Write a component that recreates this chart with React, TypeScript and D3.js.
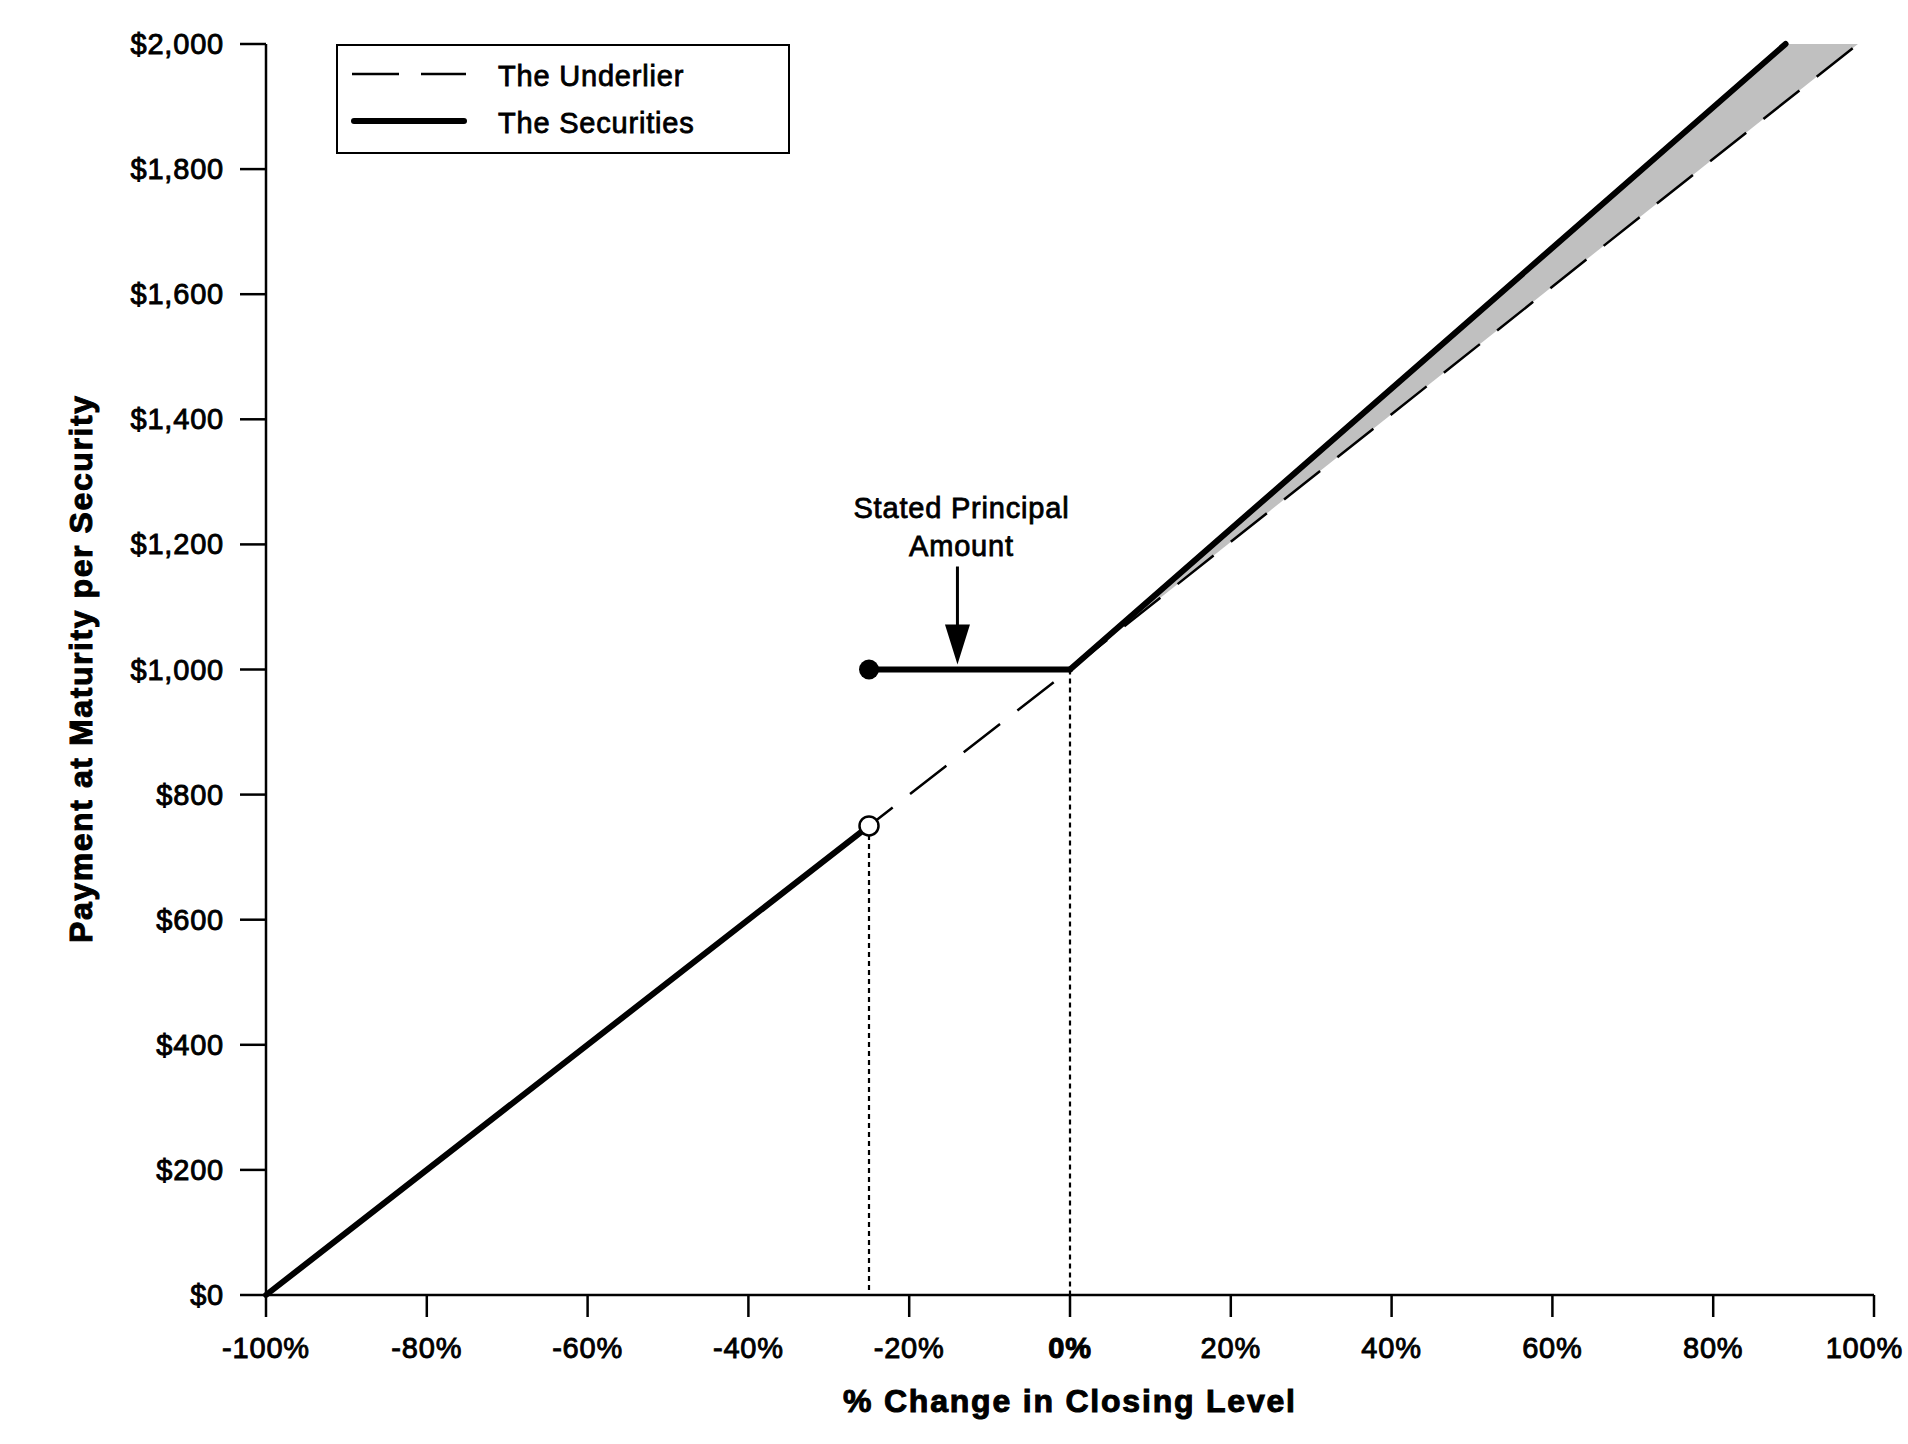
import { useEffect, useRef } from 'react';
import * as d3 from 'd3';

// ── Data ──────────────────────────────────────────────────────────────────────
const X_TICKS = [-100, -80, -60, -40, -20, 0, 20, 40, 60, 80, 100];
const Y_TICKS = [0, 200, 400, 600, 800, 1000, 1200, 1400, 1600, 1800, 2000];

// [% change, payment]
const UNDERLIER: [number, number][] = [[-100, 0], [0, 1000], [98, 2000]];
const SEC_DOWN: [number, number][] = [[-100, 0], [-25, 750]];
const SEC_FLAT: [number, number][] = [[-25, 1000], [0, 1000]];
const SEC_UP: [number, number][] = [[0, 1000], [89, 2000]];
const SHADE: [number, number][] = [[0, 1000], [89, 2000], [98, 2000]];

const BARRIER = -25;
const ARROW_X = -14;
const LEGEND = ['The Underlier', 'The Securities'];
const NOTE = ['Stated Principal', 'Amount'];

const W = 1908;
const H = 1444;
const FONT = '"Liberation Sans", Arial, sans-serif';

export default function App() {
  const svgRef = useRef<SVGSVGElement>(null);

  useEffect(() => {
    if (!svgRef.current) return;
    const svg = d3.select(svgRef.current);
    svg.selectAll('*').remove();

    const x = d3.scaleLinear().domain([-100, 100]).range([266, 1874]);
    const y = d3.scaleLinear().domain([0, 2000]).range([1295, 44]);
    const line = d3.line<[number, number]>().x(d => x(d[0])).y(d => y(d[1]));

    // shaded outperformance band
    svg.append('path')
      .attr('d', line(SHADE) + 'Z')
      .attr('fill', '#c0c0c0');

    // dotted drop lines
    const drops: [number, number][] = [[BARRIER, 750], [0, 1000]];
    svg.selectAll('line.drop').data(drops).enter().append('line')
      .attr('class', 'drop')
      .attr('x1', d => x(d[0])).attr('x2', d => x(d[0]))
      .attr('y1', d => y(d[1])).attr('y2', y(0))
      .attr('stroke', '#000').attr('stroke-width', 2.2)
      .attr('stroke-dasharray', '5,4');

    // underlier (dashed)
    svg.append('path')
      .attr('d', line(UNDERLIER))
      .attr('fill', 'none')
      .attr('stroke', '#000').attr('stroke-width', 2.5)
      .attr('stroke-dasharray', '46,22');

    // securities (thick)
    [SEC_DOWN, SEC_FLAT, SEC_UP].forEach(seg => {
      svg.append('path')
        .attr('d', line(seg))
        .attr('fill', 'none')
        .attr('stroke', '#000').attr('stroke-width', 6)
        .attr('stroke-linecap', 'round').attr('stroke-linejoin', 'round');
    });

    // ── Axes ──────────────────────────────────────────────────────────────────
    const axG = svg.append('g').attr('stroke', '#000').attr('stroke-width', 2.5);
    axG.append('line').attr('x1', x(-100)).attr('x2', x(100)).attr('y1', y(0)).attr('y2', y(0));
    axG.append('line').attr('x1', x(-100)).attr('x2', x(-100)).attr('y1', y(0)).attr('y2', y(2000));
    axG.selectAll('line.xt').data(X_TICKS).enter().append('line')
      .attr('class', 'xt')
      .attr('x1', d => x(d)).attr('x2', d => x(d))
      .attr('y1', y(0)).attr('y2', y(0) + 22);
    axG.selectAll('line.yt').data(Y_TICKS).enter().append('line')
      .attr('class', 'yt')
      .attr('x1', x(-100) - 26).attr('x2', x(-100))
      .attr('y1', d => y(d)).attr('y2', d => y(d));

    // last label hugs the right edge, as in the reference
    svg.selectAll('text.xl').data(X_TICKS).enter().append('text')
      .attr('class', 'xl')
      .attr('x', d => (d === 100 ? W - 5 : x(d))).attr('y', y(0) + 63)
      .attr('text-anchor', d => (d === 100 ? 'end' : 'middle'))
      .attr('font-family', FONT).attr('font-size', 29)
      .attr('font-weight', d => (d === 0 ? 'bold' : 'normal'))
      .attr('letter-spacing', 0.8)
      .attr('stroke', '#000').attr('stroke-width', d => (d === 0 ? 1 : 0.9))
      .text(d => `${d}%`);

    svg.selectAll('text.yl').data(Y_TICKS).enter().append('text')
      .attr('class', 'yl')
      .attr('x', x(-100) - 42).attr('y', d => y(d) + 10)
      .attr('text-anchor', 'end')
      .attr('font-family', FONT).attr('font-size', 29)
      .attr('letter-spacing', 0.8)
      .attr('stroke', '#000').attr('stroke-width', 0.9)
      .text(d => `$${d3.format(',')(d)}`);

    // axis titles
    svg.append('text')
      .attr('x', 1069).attr('y', 1412)
      .attr('text-anchor', 'middle')
      .attr('font-family', FONT).attr('font-size', 32).attr('font-weight', 'bold')
      .attr('stroke', '#000').attr('stroke-width', 1)
      .attr('textLength', 452).attr('lengthAdjust', 'spacing')
      .text('% Change in Closing Level');

    svg.append('text')
      .attr('transform', `translate(92, ${y(1000)}) rotate(-90)`)
      .attr('text-anchor', 'middle')
      .attr('font-family', FONT).attr('font-size', 32).attr('font-weight', 'bold')
      .attr('stroke', '#000').attr('stroke-width', 1)
      .attr('textLength', 547).attr('lengthAdjust', 'spacing')
      .text('Payment at Maturity per Security');

    // ── Markers ───────────────────────────────────────────────────────────────
    svg.append('circle')
      .attr('cx', x(BARRIER)).attr('cy', y(1000)).attr('r', 10)
      .attr('fill', '#000');
    svg.append('circle')
      .attr('cx', x(BARRIER)).attr('cy', y(750)).attr('r', 9.5)
      .attr('fill', '#fff').attr('stroke', '#000').attr('stroke-width', 2.5);

    // ── Annotation ────────────────────────────────────────────────────────────
    const ax = x(ARROW_X);
    const tipY = y(1000) - 5;
    svg.append('line')
      .attr('x1', ax).attr('x2', ax)
      .attr('y1', tipY - 98).attr('y2', tipY - 38)
      .attr('stroke', '#000').attr('stroke-width', 3);
    svg.append('path')
      .attr('d', `M${ax - 12.5},${tipY - 40}L${ax + 12.5},${tipY - 40}L${ax},${tipY}Z`)
      .attr('fill', '#000');
    svg.selectAll('text.note').data(NOTE).enter().append('text')
      .attr('class', 'note')
      .attr('x', ax + 4).attr('y', (_, i) => 518 + i * 38)
      .attr('text-anchor', 'middle')
      .attr('font-family', FONT).attr('font-size', 29)
      .attr('letter-spacing', 0.8)
      .attr('stroke', '#000').attr('stroke-width', 0.8)
      .text(d => d);

    // ── Legend ────────────────────────────────────────────────────────────────
    const lg = svg.append('g');
    lg.append('rect')
      .attr('x', 337).attr('y', 45).attr('width', 452).attr('height', 108)
      .attr('fill', '#fff').attr('stroke', '#000').attr('stroke-width', 2);
    lg.append('line')
      .attr('x1', 352).attr('x2', 466).attr('y1', 74).attr('y2', 74)
      .attr('stroke', '#000').attr('stroke-width', 2.5)
      .attr('stroke-dasharray', '47,22');
    lg.append('line')
      .attr('x1', 354).attr('x2', 464).attr('y1', 121).attr('y2', 121)
      .attr('stroke', '#000').attr('stroke-width', 6)
      .attr('stroke-linecap', 'round');
    lg.selectAll('text').data(LEGEND).enter().append('text')
      .attr('x', 498).attr('y', (_, i) => 86 + i * 47)
      .attr('font-family', FONT).attr('font-size', 29)
      .attr('letter-spacing', 0.8)
      .attr('stroke', '#000').attr('stroke-width', 0.8)
      .text(d => d);
  }, []);

  return (
    <svg
      ref={svgRef}
      width={W}
      height={H}
      style={{ position: 'absolute', left: 0, top: 0, background: '#fff' }}
    />
  );
}
